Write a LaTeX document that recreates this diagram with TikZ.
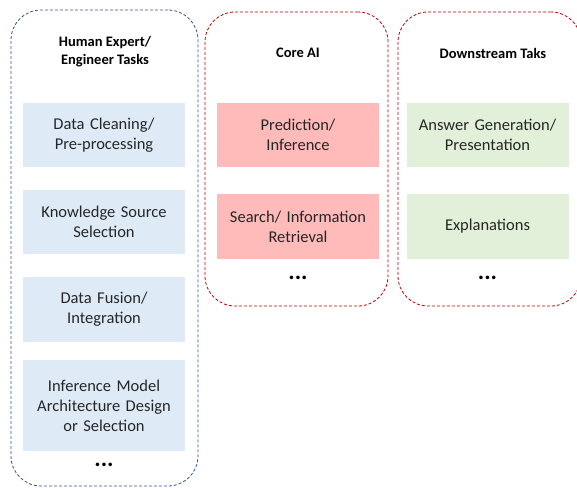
\documentclass[tikz,border=0pt]{standalone}
\usepackage{fontspec}
\setmainfont{Carlito}
\definecolor{bluefill}{HTML}{DEEBF7}
\definecolor{pinkfill}{HTML}{FFBABA}
\definecolor{greenfill}{HTML}{E2F0D9}
\definecolor{blueline}{HTML}{2F5597}
\definecolor{redline}{HTML}{C00000}
\begin{document}
\begin{tikzpicture}[x=1pt,y=-1pt,
  cont/.style={rectangle, rounded corners=30pt, dash pattern=on 3pt off 2pt, line width=0.8pt, inner sep=0pt},
  task/.style={rectangle, inner sep=2pt, align=center, text width=158pt, font=\fontsize{16.5}{20}\selectfont, text=black!85},
  title/.style={align=center, font=\fontsize{14.5}{18}\selectfont\bfseries},
  dots/.style={font=\fontsize{24}{24}\selectfont\bfseries}]
\useasboundingbox (0,0) rectangle (577,487);
\clip (0,0) rectangle (577,487);
% containers
\node[cont, draw=blueline, minimum width=187pt, minimum height=476pt] (human) at (104.5,248) {};
\node[cont, draw=redline, minimum width=183pt, minimum height=294pt] (core) at (296.5,159) {};
\node[cont, draw=redline, minimum width=183pt, minimum height=294pt] (down) at (489.5,159) {};
% titles
\node[title] (ht) at (105,52) {Human Expert/\\Engineer Tasks};
\node[title] (ct) at (298,53) {Core AI};
\node[title] (dt) at (493,53) {Downstream Taks};
% human tasks
\node[task, fill=bluefill, minimum width=162pt, minimum height=64pt] (h1) at (104,135) {Data Cleaning/\\Pre-processing};
\node[task, fill=bluefill, minimum width=162pt, minimum height=64pt] (h2) at (104,222) {Knowledge Source\\Selection};
\node[task, fill=bluefill, minimum width=162pt, minimum height=65pt] (h3) at (104,309.5) {Data Fusion/\\Integration};
\node[task, fill=bluefill, minimum width=162pt, minimum height=91pt] (h4) at (104,405.5) {Inference Model\\Architecture Design\\or Selection};
\node[dots] (hd) at (104,465) {...};
% core tasks
\node[task, fill=pinkfill, minimum width=162pt, minimum height=64pt] (c1) at (298,135) {Prediction/\\Inference};
\node[task, fill=pinkfill, minimum width=162pt, minimum height=65pt] (c2) at (298,226.5) {Search/ Information\\Retrieval};
\node[dots] (cd) at (298,278) {...};
% downstream tasks
\node[task, fill=greenfill, minimum width=159pt, minimum height=64pt] (d1) at (487.5,135) {Answer Generation/\\Presentation};
\node[task, fill=greenfill, minimum width=159pt, minimum height=65pt] (d2) at (487.5,226.5) {Explanations};
\node[dots] (dd) at (487.5,278) {...};
\end{tikzpicture}
\end{document}
